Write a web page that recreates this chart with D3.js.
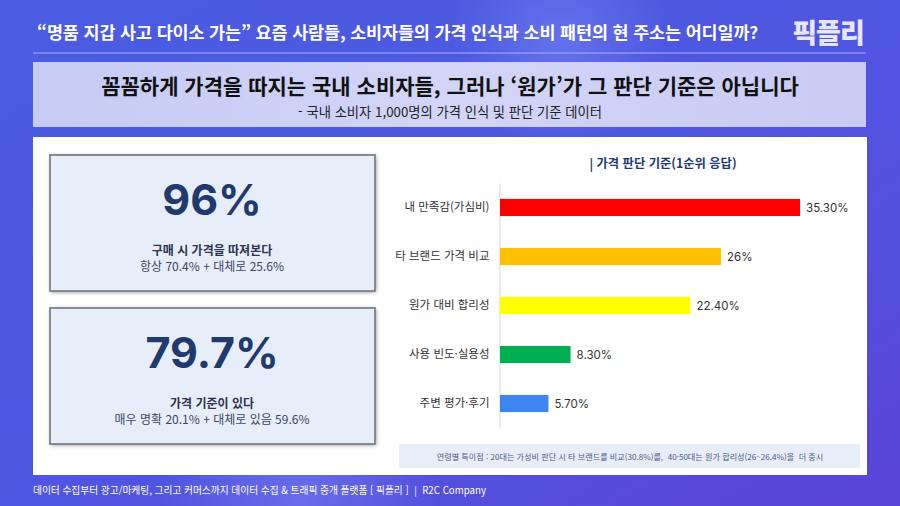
<!DOCTYPE html>
<html lang="ko">
<head>
<meta charset="utf-8">
<script src="https://cdn.jsdelivr.net/npm/d3@7"></script>
<style>
  html, body { margin: 0; padding: 0; background: #4c57e0; }
  svg { display: block; font-family: "Noto Sans CJK KR", "Noto Sans", sans-serif; }
</style>
</head>
<body>
<svg id="chart" width="900" height="506" viewBox="0 0 900 506"></svg>
<script>
// chart data
const categories = ["내 만족감(가심비)", "타 브랜드 가격 비교", "원가 대비 합리성", "사용 빈도·실용성", "주변 평가·후기"];
const values = [35.3, 26, 22.4, 8.3, 5.7];
const valueLabels = ["35.30%", "26%", "22.40%", "8.30%", "5.70%"];
const barColors = ["#ff0000", "#ffc000", "#ffff00", "#00b050", "#3d85f0"];

const statValues = ["96%", "79.7%"];
const statTitles = ["구매 시 가격을 따져본다", "가격 기준이 있다"];
const statDetails = ["항상 70.4% + 대체로 25.6%", "매우 명확 20.1% + 대체로 있음 59.6%"];

const pageTitle = "“명품 지갑 사고 다이소 가는” 요즘 사람들, 소비자들의 가격 인식과 소비 패턴의 현 주소는 어디일까?";
const headline = "꼼꼼하게 가격을 따지는 국내 소비자들, 그러나 ‘원가’가 그 판단 기준은 아닙니다";
const subline = "- 국내 소비자 1,000명의 가격 인식 및 판단 기준 데이터";
const chartTitle = "| 가격 판단 기준(1순위 응답)";
const noteText = "연령별 특이점 : 20대는 가성비 판단 시 타 브랜드를 비교(30.8%)를,  40·50대는 원가 합리성(26~26.4%)을  더 중시";
const footerText = "데이터 수집부터 광고/마케팅, 그리고 커머스까지 데이터 수집 & 트래픽 중개 플랫폼 [ 픽플리 ]  |  R2C Company";

(function () {
    const svg = d3.select("#chart");
    const defs = svg.append("defs");

    // background gradient
    const bg = defs.append("linearGradient").attr("id", "bg-grad")
        .attr("x1", "0%").attr("y1", "0%").attr("x2", "100%").attr("y2", "100%");
    bg.append("stop").attr("offset", "0%").attr("stop-color", "#4a5de2");
    bg.append("stop").attr("offset", "55%").attr("stop-color", "#4f55e0");
    bg.append("stop").attr("offset", "100%").attr("stop-color", "#5a45d8");
    svg.append("rect").attr("width", 900).attr("height", 506).attr("fill", "url(#bg-grad)");

    // soft glow spots
    const glow = defs.append("radialGradient").attr("id", "glow");
    glow.append("stop").attr("offset", "0%").attr("stop-color", "#8fa0ff").attr("stop-opacity", 0.35);
    glow.append("stop").attr("offset", "100%").attr("stop-color", "#8fa0ff").attr("stop-opacity", 0);
    svg.append("circle").attr("cx", 300).attr("cy", 500).attr("r", 140).attr("fill", "url(#glow)");
    svg.append("circle").attr("cx", 560).attr("cy", 40).attr("r", 110).attr("fill", "url(#glow)");

    // title
    svg.append("text")
        .attr("x", 37).attr("y", 39)
        .attr("fill", "#ffffff")
        .attr("font-size", 17.4).attr("font-weight", 700)
        .attr("letter-spacing", -0.1)
        .text(pageTitle);

    // logo
    svg.append("text")
        .attr("x", 828).attr("y", 43)
        .attr("text-anchor", "middle")
        .attr("fill", "#e6e6ff")
        .attr("font-size", 27).attr("font-weight", 900)
        .attr("letter-spacing", -1)
        .text("픽플리");

    svg.append("line")
        .attr("x1", 33).attr("x2", 866).attr("y1", 53).attr("y2", 53)
        .attr("stroke", "#a9b0f2").attr("stroke-width", 1);

    // headline box
    const hb = defs.append("linearGradient").attr("id", "head-grad")
        .attr("x1", "0%").attr("x2", "100%");
    hb.append("stop").attr("offset", "0%").attr("stop-color", "#c6cbf4");
    hb.append("stop").attr("offset", "50%").attr("stop-color", "#d2d5f7");
    hb.append("stop").attr("offset", "100%").attr("stop-color", "#c9cbf3");
    svg.append("rect")
        .attr("x", 33).attr("y", 62).attr("width", 833).attr("height", 65)
        .attr("fill", "url(#head-grad)");
    svg.append("text")
        .attr("x", 450).attr("y", 94)
        .attr("text-anchor", "middle")
        .attr("fill", "#111111")
        .attr("font-size", 21).attr("font-weight", 700)
        .text(headline);
    svg.append("text")
        .attr("x", 450).attr("y", 117)
        .attr("text-anchor", "middle")
        .attr("fill", "#222222")
        .attr("font-size", 13.3)
        .text(subline);

    // white panel
    svg.append("rect")
        .attr("x", 33).attr("y", 137).attr("width", 834).attr("height", 338)
        .attr("fill", "#ffffff");

    // stat cards
    const inset = defs.append("filter").attr("id", "inset").attr("x", "-5%").attr("y", "-5%")
        .attr("width", "110%").attr("height", "110%");
    inset.append("feGaussianBlur").attr("in", "SourceAlpha").attr("stdDeviation", 2).attr("result", "blur");
    inset.append("feOffset").attr("dx", 1).attr("dy", 1).attr("result", "off");
    inset.append("feComposite").attr("in", "SourceAlpha").attr("in2", "off")
        .attr("operator", "arithmetic").attr("k2", -1).attr("k3", 1).attr("result", "inner");
    inset.append("feFlood").attr("flood-color", "#000").attr("flood-opacity", 0.45);
    inset.append("feComposite").attr("in2", "inner").attr("operator", "in").attr("result", "shadow");
    const fm = inset.append("feMerge");
    fm.append("feMergeNode").attr("in", "SourceGraphic");
    fm.append("feMergeNode").attr("in", "shadow");

    const cardTop = [155, 308];
    const cards = svg.selectAll(".card")
        .data(statValues.map((v, i) => ({ value: v, title: statTitles[i], detail: statDetails[i], top: cardTop[i] })))
        .join("g")
        .attr("class", "card")
        .attr("transform", d => `translate(50, ${d.top})`);

    cards.append("rect")
        .attr("width", 325).attr("height", 136)
        .attr("fill", "#e8eef9")
        .attr("filter", "url(#inset)");
    cards.append("rect")
        .attr("width", 325).attr("height", 136)
        .attr("fill", "none")
        .attr("stroke", "#7f828c").attr("stroke-width", 1.8);

    cards.append("text")
        .attr("x", 162).attr("y", 60)
        .attr("text-anchor", "middle")
        .attr("fill", "#1e3a6e")
        .attr("font-family", "Inter, 'Noto Sans', sans-serif")
        .attr("font-size", 43).attr("font-weight", 700)
        .text(d => d.value);
    cards.append("text")
        .attr("x", 162).attr("y", 100)
        .attr("text-anchor", "middle")
        .attr("fill", "#2b3450")
        .attr("font-size", 12).attr("font-weight", 700)
        .text(d => d.title);
    cards.append("text")
        .attr("x", 162).attr("y", 116)
        .attr("text-anchor", "middle")
        .attr("fill", "#3a4566")
        .attr("font-size", 12)
        .text(d => d.detail);

    // bar chart
    const x = d3.scaleLinear().domain([0, 40]).range([500, 840]);
    const y = d3.scaleBand().domain(categories).range([183, 428])
        .paddingInner(0.65).paddingOuter(0.325);

    svg.append("text")
        .attr("x", 663).attr("y", 168)
        .attr("text-anchor", "middle")
        .attr("fill", "#1e3a6e")
        .attr("font-size", 12.3).attr("font-weight", 700)
        .text(chartTitle);

    const yAxis = svg.append("g")
        .attr("class", "axis")
        .attr("transform", "translate(499.5, 0)")
        .call(d3.axisLeft(y).tickSize(0).tickPadding(10));
    yAxis.select(".domain").attr("stroke", "#d9d9d9").attr("stroke-width", 1);
    yAxis.selectAll("text")
        .attr("fill", "#333333")
        .attr("font-size", 11.5)
        .attr("font-family", "'Noto Sans CJK KR', sans-serif");

    const rows = categories.map((c, i) => ({ cat: c, value: values[i], label: valueLabels[i], color: barColors[i] }));

    svg.selectAll(".bar")
        .data(rows)
        .join("rect")
        .attr("class", "bar")
        .attr("x", x(0))
        .attr("y", d => y(d.cat))
        .attr("width", d => x(d.value) - x(0))
        .attr("height", y.bandwidth())
        .attr("fill", d => d.color);

    svg.selectAll(".bar-label")
        .data(rows)
        .join("text")
        .attr("class", "bar-label")
        .attr("x", d => x(d.value) + 6)
        .attr("y", d => y(d.cat) + y.bandwidth() / 2)
        .attr("dy", "0.35em")
        .attr("fill", "#333333")
        .attr("font-family", "Inter, 'Noto Sans', sans-serif")
        .attr("font-size", 11.5)
        .text(d => d.label);

    // note box
    svg.append("rect")
        .attr("x", 399).attr("y", 444).attr("width", 461).attr("height", 24)
        .attr("fill", "#e8eef9");
    svg.append("text")
        .attr("x", 630).attr("y", 459.5)
        .attr("text-anchor", "middle")
        .attr("fill", "#4c5a80")
        .attr("font-size", 8.1)
        .attr("xml:space", "preserve")
        .text(noteText);

    // footer
    svg.append("text")
        .attr("x", 33).attr("y", 494)
        .attr("fill", "#ffffff")
        .attr("font-size", 9.7)
        .attr("xml:space", "preserve")
        .text(footerText);
})();
</script>
</body>
</html>
